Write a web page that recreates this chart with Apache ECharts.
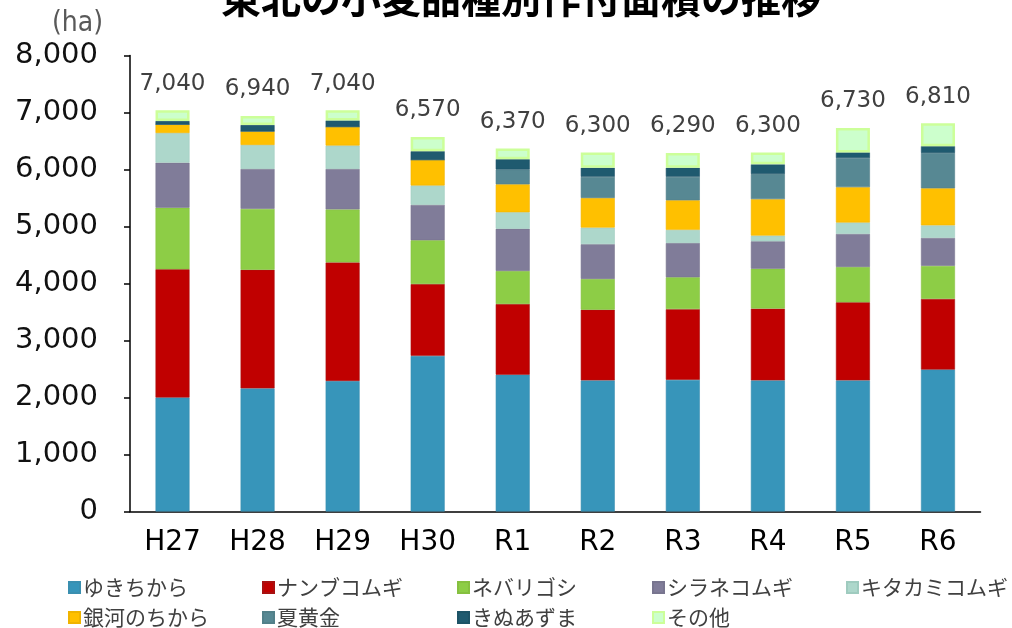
<!DOCTYPE html>
<html><head><meta charset="utf-8">
<script src="https://cdn.jsdelivr.net/npm/echarts@6/dist/echarts.min.js"></script>
<style>html,body{margin:0;padding:0;background:#fff}#c{width:1012px;height:628px}</style>
</head><body><div id="c"></div>
<script>
const categories = ['H27','H28','H29','H30','R1','R2','R3','R4','R5','R6'];
const yukichikara = [2000,2160,2290,2730,2400,2300,2310,2300,2300,2490];
const nanbukomugi = [2250,2080,2080,1260,1240,1240,1240,1260,1370,1240];
const nebarigoshi = [1080,1070,930,770,580,540,560,700,620,580];
const shiranekomugi = [790,700,710,620,740,610,600,480,580,490];
const kitakamikomugi = [520,420,410,340,290,290,230,100,200,220];
const gingaNoChikara = [150,240,330,450,490,520,520,640,620,650];
const natsukogane = [0,0,0,0,260,370,410,440,510,620];
const kinuazuma = [60,110,110,150,180,160,160,170,100,120];
const sonota = [190,160,180,250,190,270,260,210,430,400];
const totals = [7040,6940,7040,6570,6370,6300,6290,6300,6730,6810];
const yTicks = [0,1000,2000,3000,4000,5000,6000,7000,8000];

const names = ['ゆきちから','ナンブコムギ','ネバリゴシ','シラネコムギ','キタカミコムギ','銀河のちから','夏黄金','きぬあずま','その他'];
const values = [yukichikara,nanbukomugi,nebarigoshi,shiranekomugi,kitakamikomugi,gingaNoChikara,natsukogane,kinuazuma,sonota];
const colors = ['#3795ba','#c00000','#8dcd46','#807c99','#add7cb','#ffc000','#578893','#1f5a6f','#ccffcc'];
const borders = ['#3a8fb0','#a81010','#86c040','#78758f','#9fcbbf','#f0b400','#528089','#1d5366','#ccff99'];

const fmt = v => String(v).replace(/\B(?=(\d{3})+(?!\d))/g, ',');

const series = names.map((n, i) => {
  const s = {
    name: n, type: 'bar', stack: 'total', barWidth: 34,
    data: values[i],
    itemStyle: { color: colors[i], borderColor: borders[i], borderWidth: i === 8 ? 2.5 : 0.6 }
  };
  if (i === 8) {
    s.label = {
      show: true, position: 'top', distance: 15,
      formatter: p => fmt(totals[p.dataIndex]),
      fontFamily: 'DejaVu Sans', fontSize: 23, color: '#404040'
    };
  }
  return s;
});

const colX = [68, 262, 457, 652, 846];
const legends = names.map((n, i) => ({
  data: [n],
  left: colX[i % 5],
  top: i < 5 ? 577 : 607,
  padding: 0,
  itemWidth: 11, itemHeight: 11, itemGap: 0,
  icon: 'rect',
  textStyle: { fontFamily: 'Noto Sans CJK JP', fontSize: 21, color: '#404040', padding: [0,0,0,-2] }
}));

const chart = echarts.init(document.getElementById('c'), null, { renderer: 'canvas' });
chart.setOption({
  animation: false,
  backgroundColor: '#ffffff',
  title: {
    text: '東北の小麦品種別作付面積の推移',
    left: 216, top: -27,
    textStyle: { fontFamily: 'Noto Sans CJK JP', fontSize: 40, fontWeight: 'bold', color: '#000' }
  },
  legend: legends,
  grid: { left: 130, right: 31.5, top: 55.5, bottom: 116.5 },
  xAxis: {
    type: 'category', data: categories,
    axisLine: { show: true, lineStyle: { color: '#000', width: 1.5 } },
    axisTick: { show: false },
    axisLabel: { fontFamily: 'DejaVu Sans', fontSize: 28, color: '#000', margin: 17 }
  },
  yAxis: {
    type: 'value', min: yTicks[0], max: yTicks[yTicks.length - 1], interval: yTicks[1] - yTicks[0],
    name: '(ha)', nameLocation: 'end', nameGap: 18,
    nameTextStyle: { fontFamily: 'DejaVu Sans Condensed', fontSize: 28, color: '#595959', align: 'right', padding: [0, 27, 0, 0] },
    axisLine: { show: true, lineStyle: { color: '#000', width: 1.5 } },
    axisTick: { show: true, inside: false, length: 6, lineStyle: { color: '#000', width: 1.5 } },
    splitLine: { show: false },
    axisLabel: { fontFamily: 'DejaVu Sans', fontSize: 29, color: '#111', margin: 32, formatter: v => fmt(v) }
  },
  series: series
});
</script></body></html>
